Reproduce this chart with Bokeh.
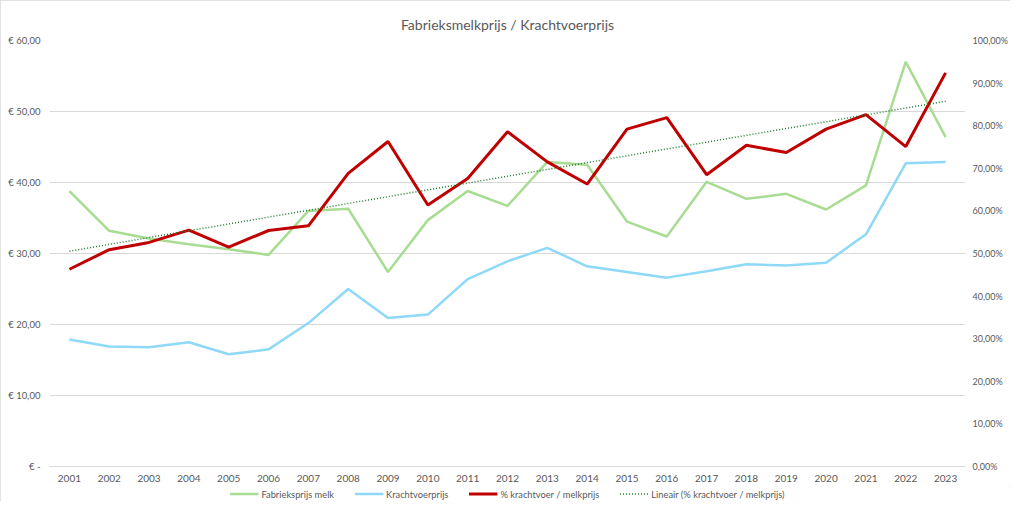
import numpy as np
from bokeh.plotting import figure
from bokeh.layouts import column
from bokeh.models import (Range1d, LinearAxis, FixedTicker, Legend, LegendItem,
                          FactorRange, ColumnDataSource)
from bokeh.embed import file_html
from bokeh.resources import INLINE

years = ["2001", "2002", "2003", "2004", "2005", "2006", "2007", "2008", "2009", "2010",
         "2011", "2012", "2013", "2014", "2015", "2016", "2017", "2018", "2019", "2020",
         "2021", "2022", "2023"]
melkprijs = [38.8, 33.2, 32.1, 31.3, 30.6, 29.8, 36.0, 36.3, 27.4, 34.7, 38.8, 36.7,
             42.9, 42.5, 34.5, 32.4, 40.1, 37.7, 38.4, 36.2, 39.6, 57.0, 46.4]
krachtvoer = [17.9, 16.9, 16.8, 17.5, 15.8, 16.5, 20.2, 25.0, 20.9, 21.4, 26.4, 28.9,
              30.8, 28.2, 27.4, 26.6, 27.5, 28.5, 28.3, 28.7, 32.7, 42.7, 42.9]
ratio_pct = [46.3, 50.9, 52.6, 55.5, 51.5, 55.4, 56.5, 68.8, 76.3, 61.4, 67.6, 78.6,
             71.5, 66.3, 79.2, 81.9, 68.5, 75.4, 73.7, 79.2, 82.6, 75.1, 92.4]

left_ticks = [0, 10, 20, 30, 40, 50, 60]
left_labels = ["€ -", "€ 10,00", "€ 20,00", "€ 30,00", "€ 40,00", "€ 50,00", "€ 60,00"]
right_ticks = [0, 10, 20, 30, 40, 50, 60, 70, 80, 90, 100]
right_labels = ["0,00%", "10,00%", "20,00%", "30,00%", "40,00%", "50,00%", "60,00%",
                "70,00%", "80,00%", "90,00%", "100,00%"]
series_names = ["Fabrieksprijs melk", "Krachtvoerprijs", "% krachtvoer / melkprijs",
                "Lineair (% krachtvoer / melkprijs)"]

title_text = "Fabrieksmelkprijs / Krachtvoerprijs"
FONT = "Lato"
GREY = "#595959"
styles = [
    dict(line_color="#A9DC93", line_width=2.5),
    dict(line_color="#8ED8F8", line_width=2.5),
    dict(line_color="#C00000", line_width=3),
    dict(line_color="#1E7B2C", line_width=1.5, line_dash="1 2"),
]

# linear trendline (least squares, like the spreadsheet's "Lineair")
idx = np.arange(1, len(years) + 1)
slope, intercept = np.polyfit(idx, np.array(ratio_pct), 1)
trend = list(intercept + slope * idx)

src = ColumnDataSource(dict(year=years, melk=melkprijs, kv=krachtvoer,
                            ratio=ratio_pct, trend=trend))
cols = ["melk", "kv", "ratio", "trend"]

W = 1010
H_MAIN, H_LEG = 486, 15
p = figure(width=W, height=H_MAIN, x_range=FactorRange(*years, range_padding=0),
           y_range=Range1d(0, 60), output_backend="svg", toolbar_location=None,
           title=title_text, min_border_left=49, min_border_right=38,
           min_border_top=40, min_border_bottom=20)
p.extra_y_ranges = {"pct": Range1d(0, 100)}

p.title.align = "center"
p.title.text_font = FONT
p.title.text_font_size = "14px"
p.title.text_font_style = "normal"
p.title.text_color = GREY
p.title.standoff = 16

p.outline_line_color = None
p.background_fill_color = "white"
p.border_fill_color = "white"

p.xgrid.grid_line_color = None
p.ygrid.grid_line_color = "#d9d9d9"
p.ygrid.grid_line_width = 1

# left axis
ly = p.yaxis[0]
ly.ticker = FixedTicker(ticks=left_ticks)
ly.major_label_overrides = {t: l for t, l in zip(left_ticks, left_labels)}
ly.axis_line_color = None
ly.major_tick_line_color = None
ly.minor_tick_line_color = None
ly.major_tick_out = 0
ly.major_tick_in = 0
ly.minor_tick_out = 0
ly.major_label_text_font = FONT
ly.major_label_text_font_size = "9.5px"
ly.major_label_text_color = GREY
ly.major_label_standoff = 9

# right axis
ry = LinearAxis(y_range_name="pct", ticker=FixedTicker(ticks=right_ticks))
ry.major_label_overrides = {t: l for t, l in zip(right_ticks, right_labels)}
ry.axis_line_color = None
ry.major_tick_line_color = None
ry.minor_tick_line_color = None
ry.major_tick_out = 0
ry.major_tick_in = 0
ry.minor_tick_out = 0
ry.major_label_text_font = FONT
ry.major_label_text_font_size = "9px"
ry.major_label_text_color = GREY
ry.major_label_standoff = 7
p.add_layout(ry, "right")

# x axis
xa = p.xaxis[0]
xa.axis_line_color = "#d9d9d9"
xa.major_tick_line_color = None
xa.minor_tick_line_color = None
xa.major_tick_out = 0
xa.major_tick_in = 0
xa.major_label_text_font = FONT
xa.major_label_text_font_size = "10px"
xa.major_label_text_color = GREY
xa.major_label_standoff = 8

p.line("year", "melk", source=src, **styles[0])
p.line("year", "kv", source=src, **styles[1])
p.line("year", "ratio", source=src, y_range_name="pct", **styles[2])
p.line("year", "trend", source=src, y_range_name="pct", **styles[3])

# legend strip below the chart (separate figure so the legend sits outside the frame);
# its lines use the same data but its y range lies below all values, so only the
# legend swatches show
pl = figure(width=W, height=H_LEG, output_backend="svg", toolbar_location=None,
            x_axis_location=None, y_axis_location=None, min_border=0,
            x_range=FactorRange(*years, range_padding=0), y_range=Range1d(-2, -1))
pl.grid.visible = False
pl.outline_line_color = None
pl.border_fill_color = "white"
pl.background_fill_color = "white"
leg_items = []
for name, col, st in zip(series_names, cols, styles):
    r = pl.line("year", col, source=src, **st)
    leg_items.append(LegendItem(label=name, renderers=[r]))
legend = Legend(items=leg_items, orientation="horizontal", location="center")
legend.label_text_font = FONT
legend.label_text_font_size = "9.3px"
legend.label_text_color = GREY
legend.glyph_width = 29
legend.glyph_height = 10
legend.label_standoff = 3
legend.spacing = 20
legend.padding = 0
legend.margin = 0
legend.border_line_color = None
legend.background_fill_alpha = 0
pl.add_layout(legend, "center")

page = column(p, pl, spacing=0)
page.styles = {"outline": "1px solid #d9d9d9", "outline-offset": "-1px"}

open("out.html", "w").write(file_html(page, INLINE))
